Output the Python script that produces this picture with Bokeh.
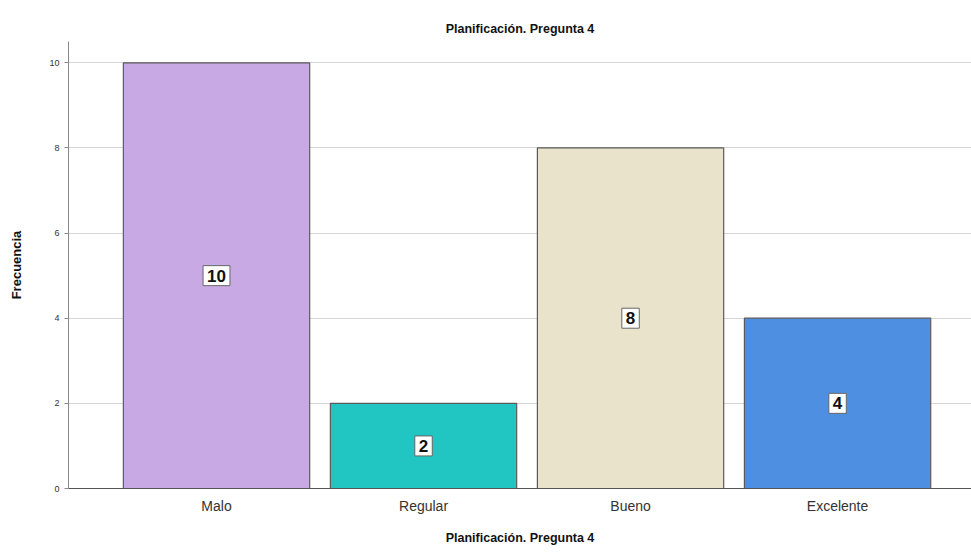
from bokeh.plotting import figure
from bokeh.models import ColumnDataSource, FixedTicker, Label, Range1d
from bokeh.embed import file_html
from bokeh.resources import INLINE

# Frequencies per answer category
categories = ["Malo", "Regular", "Bueno", "Excelente"]
counts = [10, 2, 8, 4]
colors = ["#c9a9e3", "#21c6c3", "#e9e3cc", "#4f8fe2"]
y_ticks = [0, 2, 4, 6, 8, 10]

xs = list(range(len(categories)))
source = ColumnDataSource(dict(x=xs, top=counts, color=colors))

FONT = "Liberation Sans"

p = figure(
    width=971, height=552,
    x_range=Range1d(-0.715, 3.647),
    y_range=Range1d(0, 10.5),
    output_backend="svg", toolbar_location=None,
    title="Planificación. Pregunta 4",
    min_border_left=68, min_border_right=0,
    min_border_top=41, min_border_bottom=64,
)
p.outline_line_color = None
p.background_fill_color = "white"

p.title.align = "center"
p.title.text_font = FONT
p.title.text_font_size = "12.5px"
p.title.text_font_style = "bold"
p.title.text_color = "#111111"
p.title.offset = 0
p.title.standoff = 11

p.vbar(x="x", top="top", width=0.9, bottom=0, source=source,
       fill_color="color", line_color="#5a5a5a", line_width=1.2)

# boxed value label at the middle of each bar
for x, c in zip(xs, counts):
    p.add_layout(Label(
        x=x, y=c / 2, text=str(c),
        text_align="center", text_baseline="middle",
        text_font=FONT, text_font_size="17px", text_font_style="bold",
        text_color="#111111",
        background_fill_color="white", background_fill_alpha=1.0,
        border_line_color="#666666", border_line_width=1,
        padding=4,
    ))

# y axis
p.yaxis.ticker = FixedTicker(ticks=y_ticks)
p.yaxis.axis_label = "Frecuencia"
p.yaxis.axis_label_text_font = FONT
p.yaxis.axis_label_text_font_size = "13px"
p.yaxis.axis_label_text_font_style = "bold"
p.yaxis.axis_label_text_color = "#111111"
p.yaxis.axis_label_standoff = 22
p.yaxis.major_label_text_font = FONT
p.yaxis.major_label_text_font_size = "9px"
p.yaxis.major_label_text_color = "#333333"
p.yaxis.axis_line_color = "#8a8a8a"
p.yaxis.major_tick_line_color = "#8a8a8a"
p.yaxis.major_tick_out = 4
p.yaxis.major_tick_in = 0
p.yaxis.minor_tick_line_color = None

# x axis
p.xaxis.ticker = FixedTicker(ticks=xs)
p.xaxis.major_label_overrides = {i: c for i, c in zip(xs, categories)}
p.xaxis.axis_label = "Planificación. Pregunta 4"
p.xaxis.axis_label_text_font = FONT
p.xaxis.axis_label_text_font_size = "12.5px"
p.xaxis.axis_label_text_font_style = "bold"
p.xaxis.axis_label_text_color = "#111111"
p.xaxis.axis_label_standoff = 14
p.xaxis.major_label_text_font = FONT
p.xaxis.major_label_text_font_size = "14px"
p.xaxis.major_label_text_color = "#333333"
p.xaxis.axis_line_color = "#555555"
p.xaxis.major_tick_line_color = None
p.xaxis.minor_tick_line_color = None
p.xaxis.major_label_standoff = 3

p.xgrid.grid_line_color = None
p.ygrid.grid_line_color = "#d6d6d6"
p.ygrid.ticker = FixedTicker(ticks=y_ticks[1:])

open("out.html", "w").write(file_html(p, INLINE))
